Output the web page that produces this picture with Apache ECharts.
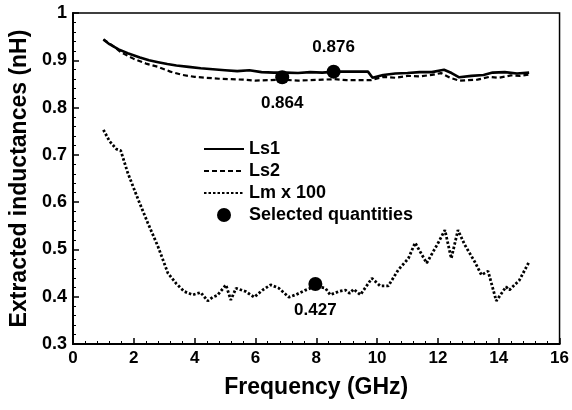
<!DOCTYPE html>
<html>
<head>
<meta charset="utf-8">
<script src="https://cdn.jsdelivr.net/npm/echarts@6/dist/echarts.min.js"></script>
<style>
  html, body { margin: 0; padding: 0; background: #fff; }
  #chart { width: 572px; height: 410px; }
</style>
</head>
<body>
<div id="chart"></div>
<script>
// frequency (GHz) and inductance (nH)
const ls1Freq = [1.0, 1.2, 1.5, 1.8, 2.2, 2.5, 2.8, 3.1, 3.4, 3.8, 4.2, 4.6, 5.0, 5.4, 5.8, 6.2, 6.6, 7.0, 7.4, 7.8, 8.2, 8.6, 9.0, 9.4, 9.7, 9.85, 10.2, 10.6, 11.0, 11.4, 11.8, 12.2, 12.45, 12.7, 13.1, 13.5, 13.8, 14.2, 14.6, 15.0]
const ls1Val = [0.944, 0.934, 0.923, 0.915, 0.906, 0.900, 0.896, 0.892, 0.889, 0.886, 0.883, 0.881, 0.879, 0.877, 0.879, 0.875, 0.874, 0.874, 0.873, 0.875, 0.874, 0.876, 0.876, 0.876, 0.876, 0.863, 0.869, 0.872, 0.873, 0.875, 0.875, 0.880, 0.873, 0.864, 0.867, 0.869, 0.874, 0.875, 0.872, 0.874]

const ls2Freq = [1.0, 1.3, 1.6, 2.0, 2.4, 2.8, 3.2, 3.6, 4.0, 4.4, 4.8, 5.2, 5.6, 6.0, 6.4, 6.9, 7.4, 7.8, 8.2, 8.6, 9.0, 9.4, 9.8, 10.2, 10.6, 11.0, 11.4, 11.8, 12.1, 12.4, 12.7, 13.0, 13.3, 13.7, 14.0, 14.4, 14.7, 15.0]
const ls2Val = [0.944, 0.931, 0.916, 0.903, 0.893, 0.886, 0.876, 0.869, 0.865, 0.863, 0.861, 0.860, 0.859, 0.857, 0.858, 0.859, 0.857, 0.858, 0.859, 0.860, 0.858, 0.858, 0.858, 0.865, 0.863, 0.867, 0.866, 0.869, 0.873, 0.863, 0.857, 0.858, 0.859, 0.865, 0.863, 0.868, 0.867, 0.870]

const lmFreq = [1.0, 1.2, 1.43, 1.57, 1.8, 2.14, 2.46, 2.79, 3.12, 3.39, 3.66, 3.94, 4.2, 4.43, 4.59, 4.75, 5.03, 5.19, 5.36, 5.68, 5.96, 6.23, 6.5, 6.77, 7.1, 7.32, 7.65, 7.97, 8.3, 8.46, 8.74, 8.96, 9.1, 9.23, 9.45, 9.83, 10.1, 10.37, 10.7, 11.03, 11.25, 11.63, 12.01, 12.23, 12.44, 12.66, 12.88, 13.21, 13.43, 13.65, 13.92, 14.24, 14.35, 14.68, 15.0]
const lmVal = [0.753, 0.729, 0.712, 0.709, 0.662, 0.606, 0.556, 0.507, 0.450, 0.428, 0.411, 0.404, 0.409, 0.391, 0.399, 0.403, 0.425, 0.393, 0.418, 0.411, 0.399, 0.414, 0.425, 0.418, 0.399, 0.404, 0.414, 0.422, 0.418, 0.404, 0.411, 0.414, 0.407, 0.416, 0.404, 0.439, 0.423, 0.423, 0.457, 0.481, 0.514, 0.471, 0.514, 0.541, 0.481, 0.541, 0.510, 0.474, 0.446, 0.454, 0.391, 0.421, 0.414, 0.435, 0.474]

const selFreq = [6.88, 8.57, 7.97]
const selVal = [0.864, 0.876, 0.427]

const xTicks = [0, 16, 2]
const yTicks = [0.3, 1, 0.1]

const zip = (xs, ys) => xs.map((x, i) => [x, ys[i]])
const font = 'Liberation Sans, Arial, Helvetica, sans-serif'
const lineLegend = name => ({ name: name, itemStyle: { opacity: 0 } })

const chart = echarts.init(document.getElementById('chart'))
chart.setOption({
  animation: false,
  backgroundColor: '#fff',
  grid: {
    left: 73,
    right: 10,
    top: 13,
    bottom: 66,
    show: true,
    borderColor: '#000',
    borderWidth: 1.5
  },
  legend: {
    orient: 'vertical',
    left: 203,
    top: 140,
    padding: 0,
    itemWidth: 40,
    itemHeight: 14,
    itemGap: 4,
    textStyle: { fontFamily: font, fontWeight: 'bold', fontSize: 18, color: '#000' },
    data: [lineLegend('Ls1'), lineLegend('Ls2'), lineLegend('Lm x 100'), 'Selected quantities']
  },
  xAxis: {
    type: 'value',
    min: xTicks[0],
    max: xTicks[1],
    interval: xTicks[2],
    name: 'Frequency (GHz)',
    nameLocation: 'middle',
    nameGap: 32,
    nameTextStyle: { fontFamily: font, fontWeight: 'bold', fontSize: 23, color: '#000' },
    axisLine: { lineStyle: { color: '#000', width: 2 } },
    axisTick: { inside: true, length: 6, lineStyle: { color: '#000', width: 1.5 } },
    minorTick: { show: true, splitNumber: 5, length: 3, lineStyle: { color: '#000', width: 1 } },
    splitLine: { show: false },
    axisLabel: { margin: 6, fontFamily: font, fontWeight: 'bold', fontSize: 17, color: '#000' }
  },
  yAxis: {
    type: 'value',
    min: yTicks[0],
    max: yTicks[1],
    interval: yTicks[2],
    name: 'Extracted inductances (nH)',
    nameLocation: 'middle',
    nameGap: 41,
    nameTextStyle: { fontFamily: font, fontWeight: 'bold', fontSize: 23, color: '#000' },
    axisLine: { lineStyle: { color: '#000', width: 2 } },
    axisTick: { inside: true, length: 6, lineStyle: { color: '#000', width: 1.5 } },
    minorTick: { show: true, splitNumber: 5, length: 3, lineStyle: { color: '#000', width: 1 } },
    splitLine: { show: false },
    axisLabel: {
      margin: 6,
      fontFamily: font,
      fontWeight: 'bold',
      fontSize: 18,
      color: '#000',
      formatter: v => (Math.abs(v - 1) < 1e-9 ? '1' : v.toFixed(1))
    }
  },
  series: [
    {
      name: 'Ls1',
      type: 'line',
      data: zip(ls1Freq, ls1Val),
      symbol: 'none',
      color: '#000',
      lineStyle: { color: '#000', width: 2.6, type: 'solid' }
    },
    {
      name: 'Ls2',
      type: 'line',
      data: zip(ls2Freq, ls2Val),
      symbol: 'none',
      color: '#000',
      lineStyle: { color: '#000', width: 2.2, type: [5, 3] }
    },
    {
      name: 'Lm x 100',
      type: 'line',
      data: zip(lmFreq, lmVal),
      symbol: 'none',
      color: '#000',
      lineStyle: { color: '#000', width: 2.8, type: [2.5, 2] }
    },
    {
      name: 'Selected quantities',
      type: 'scatter',
      symbol: 'circle',
      symbolSize: 14,
      color: '#000',
      itemStyle: { color: '#000', opacity: 1 },
      z: 5,
      data: selFreq.map((f, i) => ({
        value: [f, selVal[i]],
        label: {
          show: true,
          position: i === 1 ? 'top' : 'bottom',
          distance: i === 1 ? 9 : 11,
          formatter: selVal[i].toFixed(3),
          fontFamily: font,
          fontWeight: 'bold',
          fontSize: 17,
          color: '#000'
        }
      }))
    }
  ]
})
</script>
</body>
</html>
